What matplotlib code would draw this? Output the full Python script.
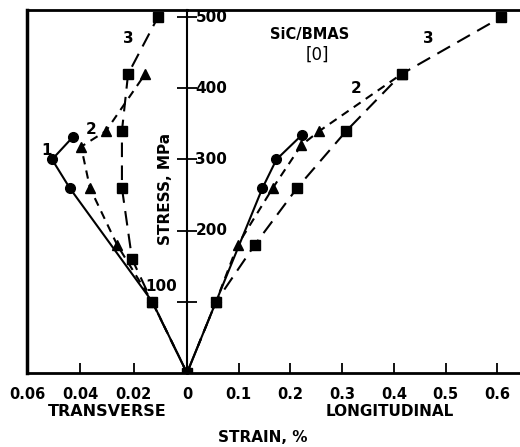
import matplotlib.pyplot as plt

# stress levels, MPa
# curve 1 (circles, solid)
c1_trans_strain = [0, 0.013, 0.044, 0.0506, 0.0427]
c1_trans_stress = [0, 100, 260, 300, 332]
c1_long_strain = [0, 0.056, 0.146, 0.173, 0.223]
c1_long_stress = [0, 100, 260, 300, 335]

# curve 2 (triangles, short dashes)
c2_trans_strain = [0, 0.013, 0.0262, 0.0364, 0.0397, 0.0304, 0.0157]
c2_trans_stress = [0, 100, 180, 260, 318, 340, 420]
c2_long_strain = [0, 0.056, 0.098, 0.166, 0.221, 0.256, 0.415]
c2_long_stress = [0, 100, 180, 260, 320, 340, 420]

# curve 3 (squares, long dashes)
c3_trans_strain = [0, 0.0131, 0.0206, 0.0244, 0.0244, 0.0221, 0.0109]
c3_trans_stress = [0, 100, 160, 260, 340, 420, 500]
c3_long_strain = [0, 0.056, 0.131, 0.213, 0.308, 0.415, 0.608]
c3_long_stress = [0, 100, 180, 260, 340, 420, 500]

trans_ticks = [0.06, 0.04, 0.02, 0]
trans_labels = ['0.06', '0.04', '0.02', '0']
long_ticks = [0.1, 0.2, 0.3, 0.4, 0.5, 0.6]
long_labels = ['0.1', '0.2', '0.3', '0.4', '0.5', '0.6']
stress_ticks = [100, 200, 300, 400, 500]

W, H = 520, 447
plt.rcParams['font.family'] = ['DejaVu Sans']
plt.rcParams['font.weight'] = 'bold'
fig = plt.figure(figsize=(W / 100, H / 100), dpi=100)

bot = (H - 373) / H
hgt = 363 / H
axL = fig.add_axes([27 / W, bot, 160 / W, hgt])
axR = fig.add_axes([187 / W, bot, 333 / W, hgt])

styles = [
    dict(color='black', ls='-', marker='o', ms=7, lw=1.5),
    dict(color='black', ls=(0, (4, 3)), marker='^', ms=7.5, lw=1.5),
    dict(color='black', ls=(0, (7, 4)), marker='s', ms=6.5, lw=1.5),
]
axL.plot(c1_trans_strain, c1_trans_stress, **styles[0])
axL.plot(c2_trans_strain, c2_trans_stress, **styles[1])
axL.plot(c3_trans_strain, c3_trans_stress, **styles[2])
axR.plot(c1_long_strain, c1_long_stress, **styles[0])
axR.plot(c2_long_strain, c2_long_stress, **styles[1])
axR.plot(c3_long_strain, c3_long_stress, **styles[2])

axL.set_xlim(0.06, 0)
axR.set_xlim(0, 0.644)
for ax in (axL, axR):
    ax.set_ylim(0, 510)
    ax.set_facecolor('none')
    for s in ax.spines.values():
        s.set_linewidth(2)
    ax.spines['right'].set_visible(False)
    ax.tick_params(axis='x', direction='in', length=7, width=1.3,
                   pad=10, labelsize=10.5)

axL.spines['left'].set_linewidth(2.5)
axL.set_yticks([])
axL.set_xticks(trans_ticks)
axL.set_xticklabels(trans_labels)

axR.spines['left'].set_linewidth(1.5)
axR.set_xticks(long_ticks)
axR.set_xticklabels(long_labels)
axR.set_yticks(stress_ticks)
axR.tick_params(axis='y', direction='inout', length=14, width=1.3,
                labelleft=False)

for v in stress_ticks[1:]:
    axR.annotate(str(v), xy=(0, v), xytext=(6, 0), textcoords='offset points',
                 va='center', ha='left', fontsize=11)
axR.annotate('100', xy=(0, 100), xytext=(-7, 11), textcoords='offset points',
             va='center', ha='right', fontsize=11)

axL.text(0.0082, 258, 'STRESS, MPa', rotation=90, ha='center', va='center',
         fontsize=11)

# curve numbers
axL.text(0.0525, 312, '1', fontsize=11, ha='center', va='center')
axL.text(0.036, 342, '2', fontsize=11, ha='center', va='center')
axL.text(0.022, 470, '3', fontsize=11, ha='center', va='center')
axR.text(0.327, 400, '2', fontsize=11, ha='center', va='center')
axR.text(0.467, 470, '3', fontsize=11, ha='center', va='center')

axR.text(0.238, 475, 'SiC/BMAS', fontsize=10.5, ha='center', va='center')
axR.text(0.252, 447, '[0]', fontsize=12, ha='center', va='center',
         fontweight='normal')

fig.text(107 / W, 1 - 412 / H, 'TRANSVERSE', ha='center', va='center',
         fontsize=11.5)
fig.text(390 / W, 1 - 411 / H, 'LONGITUDINAL', ha='center', va='center',
         fontsize=11)
fig.text(263 / W, 1 - 437 / H, 'STRAIN, %', ha='center', va='center',
         fontsize=11)

fig.savefig('out.png', dpi=100)
